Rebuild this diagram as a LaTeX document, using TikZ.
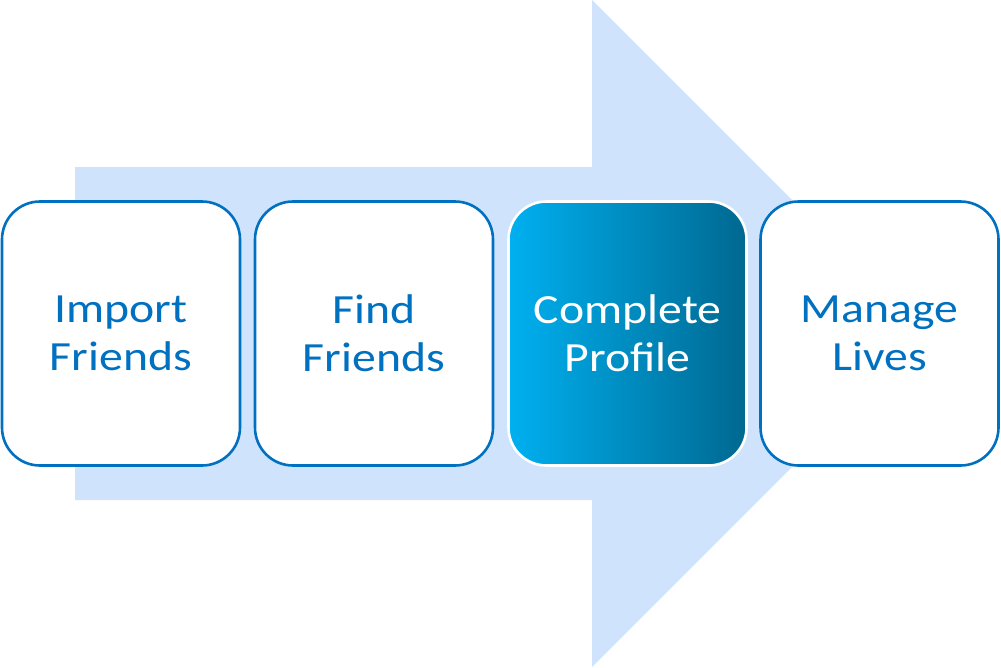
\documentclass[tikz,border=0pt]{standalone}
\usepackage{fontspec}
\setmainfont{Carlito}
\newfontfamily\boxfont[FakeStretch=1.15]{Carlito}
\definecolor{arrowfill}{HTML}{CFE4FC}
\definecolor{boxblue}{HTML}{0070C0}
\definecolor{gradL}{HTML}{00B0F0}
\definecolor{gradR}{HTML}{006890}
\begin{document}
\begin{tikzpicture}[x=1pt,y=-1pt,
  stepbox/.style={draw=boxblue, line width=2.6pt, fill=white, rounded corners=38pt,
    minimum width=238pt, minimum height=264pt, inner sep=0pt, align=center,
    text=boxblue, font=\boxfont\fontsize{41.5}{48}\selectfont},
  hotbox/.style={stepbox, draw=white, left color=gradL, right color=gradR, text=white}]
\useasboundingbox (0,0) rectangle (1001,667);
\fill[arrowfill] (75,167) -- (592,167) -- (592,0) -- (925.5,333.5) -- (592,667) -- (592,500) -- (75,500) -- cycle;
\node[stepbox] (b1) at (121,333.5) {Import\\Friends};
\node[stepbox] (b2) at (374,333.5) {Find\\Friends};
\node[hotbox] (b3) at (627.5,333.5) {Complete\\Profile};
\node[stepbox] (b4) at (879.5,333.5) {Manage\\Lives};
\end{tikzpicture}
\end{document}
